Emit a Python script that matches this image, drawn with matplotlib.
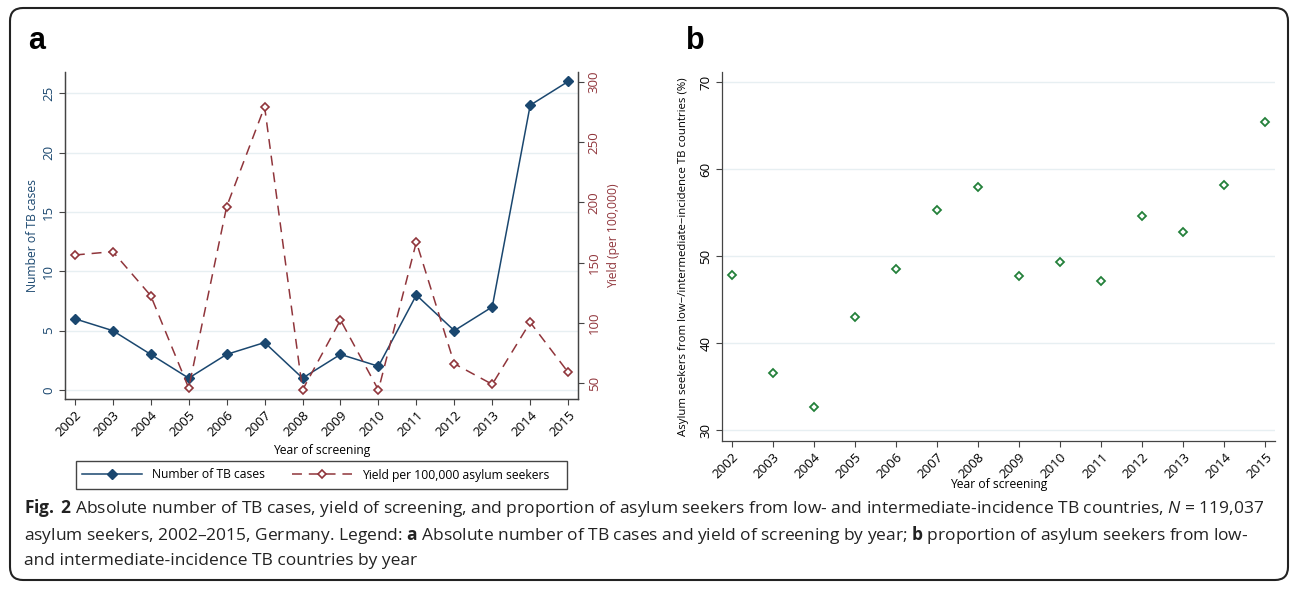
import numpy as np
import matplotlib
matplotlib.use("Agg")
import matplotlib.pyplot as plt
from matplotlib.patches import FancyBboxPatch, Rectangle
from matplotlib.lines import Line2D

# ---------------- data ----------------
years = [2002, 2003, 2004, 2005, 2006, 2007, 2008,
         2009, 2010, 2011, 2012, 2013, 2014, 2015]
tb_cases = [6, 5, 3, 1, 3, 4, 1, 3, 2, 8, 5, 7, 24, 26]
yield_per_100k = [156.3, 159.1, 122.5, 45.8, 196.4, 279.5, 44.2,
                  102.3, 44.2, 167.1, 66.0, 48.9, 100.4, 58.9]
low_mid_share = [47.85, 36.55, 32.6, 43.0, 48.5, 55.25, 57.95,
                 47.65, 49.3, 47.1, 54.55, 52.8, 58.15, 65.45]

left_ticks = [0, 5, 10, 15, 20, 25]
right_ticks = [50, 100, 150, 200, 250, 300]
b_ticks = [30, 40, 50, 60, 70]

navy = "#1a476f"
maroon = "#90353b"
green = "#23803a"
grid_c = "#e7eff2"
spine_c = "#444444"

plt.rcParams["font.family"] = ["Open Sans", "DejaVu Sans"]
plt.rcParams["mathtext.fontset"] = "custom"
plt.rcParams["mathtext.rm"] = "Open Sans"
plt.rcParams["mathtext.bf"] = "Open Sans:bold"
plt.rcParams["mathtext.it"] = "Open Sans:italic"

W, H = 1290, 590
fig = plt.figure(figsize=(W / 100, H / 100), dpi=100)


def box(x0, y0, x1, y1):
    # pixel box (top-left origin) -> figure fractions
    return [x0 / W, 1 - y1 / H, (x1 - x0) / W, (y1 - y0) / H]


def style_axis(ax):
    for s in ["top", "right", "left", "bottom"]:
        ax.spines[s].set_color(spine_c)
        ax.spines[s].set_linewidth(0.9)
    ax.tick_params(axis="both", direction="out", length=4, width=0.8,
                   color=spine_c, labelsize=9.5, pad=3)
    ax.set_xticks(years)
    ax.set_xticklabels([str(y) for y in years], rotation=45,
                       ha="right", va="top", rotation_mode="anchor")


# ---------------- panel a ----------------
ax = fig.add_axes(box(65, 72, 578, 399))
style_axis(ax)
ax.spines["top"].set_visible(False)
ax.set_xlim(2001.74, 2015.26)
ax.set_ylim(-0.76, 26.8)
ax.set_yticks(left_ticks)
ax.set_yticklabels([str(t) for t in left_ticks], rotation=90, va="center",
                   color=navy)
for t in left_ticks:
    ax.axhline(t, color=grid_c, lw=1.0, zorder=0)
ax.plot(years, tb_cases, color=navy, lw=1.1, marker="D", ms=4.6,
        mfc=navy, mec=navy, zorder=3)
ax.set_ylabel("Number of TB cases", color=navy, fontsize=8.7)
ax.yaxis.set_label_coords(-0.051, 0.5)
ax.set_xlabel("Year of screening", fontsize=8.7, va="center")
ax.xaxis.set_label_coords(0.5, -0.156)

ax2 = ax.twinx()
style_axis(ax2)
ax2.spines["top"].set_visible(False)
ax2.set_ylim(36.7, 308.3)
ax2.set_yticks(right_ticks)
ax2.set_yticklabels([str(t) for t in right_ticks], rotation=90, va="center",
                    color=maroon)
ax2.plot(years, yield_per_100k, color=maroon, lw=1.1, dashes=(6.5, 4.5),
         marker="D", ms=4.2, mfc="white", mec=maroon, mew=1.2, zorder=3)
ax2.set_ylabel("Yield (per 100,000)", color=maroon, fontsize=8.7)
ax2.yaxis.set_label_coords(1.0565, 0.5)

# legend
h1 = Line2D([], [], color=navy, lw=1.1, marker="D", ms=4.6, mfc=navy, mec=navy)
h2 = Line2D([], [], color=maroon, lw=1.1, dashes=(6.5, 4.5), marker="D",
            ms=4.2, mfc="white", mec=maroon, mew=1.2)
fig.legend([h1, h2], ["Number of TB cases", "Yield per 100,000 asylum seekers"],
           loc="center left", bbox_to_anchor=(82 / W, 1 - 475 / H), ncol=2,
           frameon=False, fontsize=8.7, handlelength=5.0, handletextpad=0.8,
           columnspacing=2.2, borderpad=0, borderaxespad=0)
fig.patches.append(Rectangle((76 / W, 1 - 489 / H), 491 / W, 28 / H,
                             transform=fig.transFigure, fill=False,
                             edgecolor=spine_c, lw=1.0))

# ---------------- panel b ----------------
bx = fig.add_axes(box(722, 72, 1275, 441))
style_axis(bx)
bx.spines["top"].set_visible(False)
bx.spines["right"].set_visible(False)
bx.set_xlim(2001.76, 2015.24)
bx.set_ylim(28.74, 71.15)
bx.set_yticks(b_ticks)
bx.set_yticklabels([str(t) for t in b_ticks], rotation=90, va="center")
for t in b_ticks:
    bx.axhline(t, color=grid_c, lw=1.0, zorder=0)
bx.plot(years, low_mid_share, ls="none", marker="D", ms=4.2, mfc="white",
        mec=green, mew=1.3, zorder=3)
bx.set_ylabel("Asylum seekers from low\u2212/intermediate\u2212incidence TB countries (%)",
              fontsize=8.2)
bx.yaxis.set_label_coords(-0.06, 0.5)
bx.set_xlabel("Year of screening", fontsize=8.7, va="center")
bx.xaxis.set_label_coords(0.5, -0.119)

# panel letters
fig.text(28 / W, 1 - 49 / H, "a", fontsize=22, fontweight="bold",
         family=["Liberation Sans", "DejaVu Sans"], va="baseline")
fig.text(686 / W, 1 - 49 / H, "b", fontsize=22, fontweight="bold",
         family=["Liberation Sans", "DejaVu Sans"], va="baseline")

# caption
cap = [
    r"$\mathbf{Fig.\;2}$ Absolute number of TB cases, yield of screening, and proportion of asylum seekers from low- and intermediate-incidence TB countries, $\mathit{N}$ = 119,037",
    "asylum seekers, 2002\u20132015, Germany. Legend: $\\mathbf{a}$ Absolute number of TB cases and yield of screening by year; $\\mathbf{b}$ proportion of asylum seekers from low-",
    "and intermediate-incidence TB countries by year",
]
for i, line in enumerate(cap):
    fig.text(24 / W, 1 - (508 + 26.5 * i) / H, line, fontsize=12.55,
             va="center", ha="left", color="#222222")

# rounded outer frame
fig.patches.append(FancyBboxPatch((0.10, 0.10), 12.78, 5.72,
                                  boxstyle="round,pad=0,rounding_size=0.13",
                                  transform=fig.dpi_scale_trans, fill=False,
                                  edgecolor="#222222", lw=1.5))

fig.savefig("out.png", dpi=100)
